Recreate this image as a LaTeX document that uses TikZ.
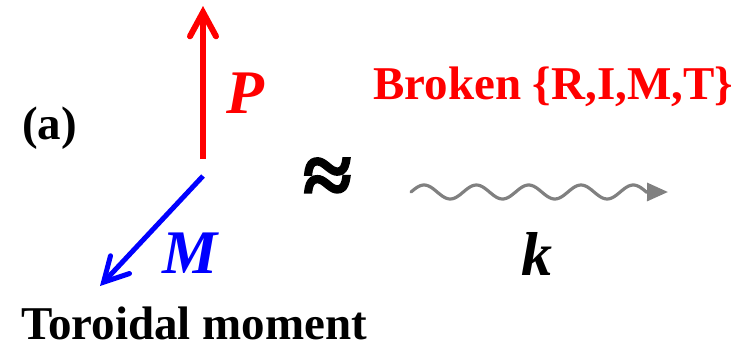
\documentclass[tikz,border=0pt]{standalone}
\usepackage{fontspec}
\setmainfont{Liberation Serif}
\newfontfamily\approxfont[FakeBold=2.5]{Liberation Serif}
\usetikzlibrary{arrows.meta}

\tikzset{
    label text/.style={font=\fontsize{47}{50}\selectfont\bfseries, inner sep=0pt, anchor=base west},
    vector text/.style={font=\fontsize{62}{64}\selectfont\bfseries\itshape, inner sep=0pt, anchor=base west},
    vector/.style={line width=#1, -{Straight Barb[length=24pt, width=26pt, line cap=round]}},
}

\begin{document}
\begin{tikzpicture}[x=1pt, y=-1pt]
    \useasboundingbox (0,0) rectangle (742,349);

    % Labels
    \node[label text] (panel) at (22,139) {(a)};
    \node[label text] (toroidal) at (21,339) {Toroidal moment};
    \node[label text, text=red] (broken) at (373,99) {Broken \{R,I,M,T\}};

    % Polarisation and magnetisation vectors
    \coordinate (P tail) at (203,159);
    \coordinate (P head) at (203,6);
    \coordinate (M tail) at (203,176);
    \coordinate (M head) at (100,286);
    \draw[vector=6pt, red] (P tail) -- (P head);
    \draw[vector=5pt, blue] (M tail) -- (M head);
    \node[vector text, text=red] (P) at (226,113) {P};
    \node[vector text, text=blue] (M) at (162,273) {M};

    % Approximately equal
    \node[font=\fontsize{88}{90}\selectfont\approxfont\bfseries, inner sep=0pt, anchor=base west] (approx) at (303,205) {≈};

    % Wave vector k (wavy gray arrow)
    \coordinate (wave start) at (411,192);
    \coordinate (wave end) at (668,192);
    \draw[gray, line width=3.2pt, line cap=round, -{Triangle[length=21pt, width=18pt]}]
        (wave start) -- plot[domain=0:4.5, samples=120, smooth] ({411+52.3*\x}, {192-7*sin(360*\x)}) -- (wave end);
    \node[vector text] (k) at (521,275) {k};
\end{tikzpicture}
\end{document}
